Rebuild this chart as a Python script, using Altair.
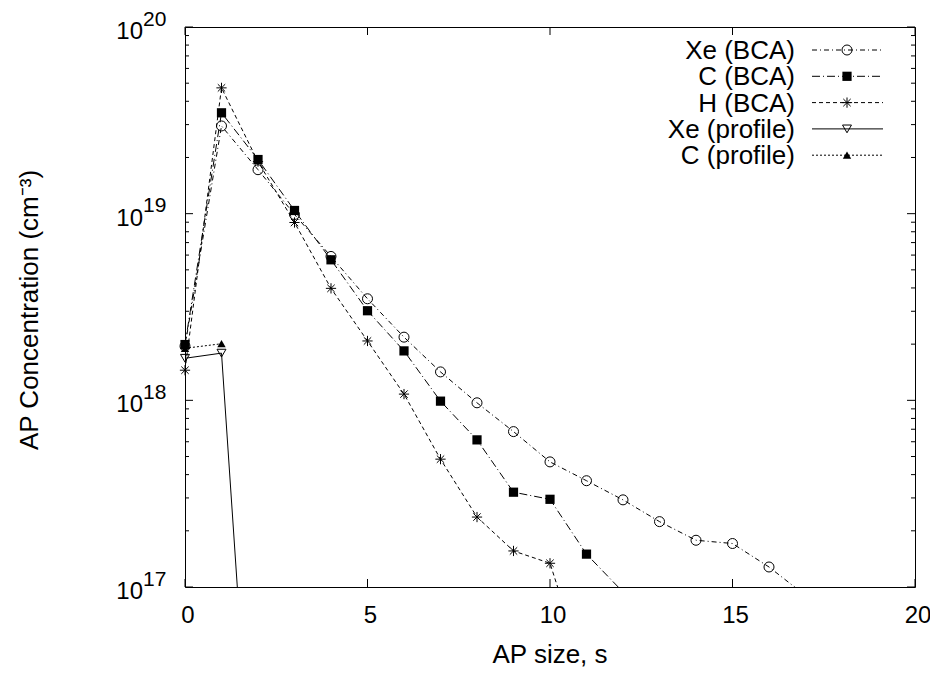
import altair as alt
import pandas as pd

# ---- data ----
sizes = list(range(0, 18))

xe_bca = [1.95e18, 2.95e19, 1.72e19, 9.9e18, 5.9e18, 3.5e18, 2.18e18, 1.42e18, 9.7e17,
          6.8e17, 4.68e17, 3.71e17, 2.93e17, 2.24e17, 1.78e17, 1.71e17, 1.28e17, 9.0e16]
c_bca = [1.99e18, 3.47e19, 1.95e19, 1.04e19, 5.66e18, 3.02e18, 1.84e18, 9.9e17, 6.14e17,
         3.22e17, 2.95e17, 1.5e17, 9.4e16]
h_bca = [1.45e18, 4.72e19, 1.9e19, 8.97e18, 3.98e18, 2.08e18, 1.08e18, 4.84e17, 2.37e17,
         1.56e17, 1.34e17, 3.3e16]
xe_profile = [1.68e18, 1.79e18, 2.3e15]
c_profile = [1.9e18, 2.01e18]

series_names = ["Xe (BCA)", "C (BCA)", "H (BCA)", "Xe (profile)", "C (profile)"]
series_values = [xe_bca, c_bca, h_bca, xe_profile, c_profile]

y_major_ticks = [1e17, 1e18, 1e19, 1e20]
y_major_exps = ["17", "18", "19", "20"]
y_minor_ticks = [k * 10.0 ** e for e in (17, 18, 19) for k in range(2, 10)]
x_ticks = [0, 5, 10, 15, 20]
x_tick_labels = ["0", "5", "10", "15", "20"]

x_title = "AP size, s"
y_title = "AP Concentration (cm\u207b\u00b3)"

# ---- styles ----
FONT = "Liberation Sans"
W, H = 730, 560
ASTERISK = "M-1,0L1,0M0,-1L0,1M-0.72,-0.72L0.72,0.72M-0.72,0.72L0.72,-0.72"
styles = [
    dict(dash=[5, 3, 1, 3], shape="circle", filled=False, size=100),
    dict(dash=[8, 3, 1, 3], shape="square", filled=True, size=85),
    dict(dash=[4, 3], shape=ASTERISK, filled=False, size=105),
    dict(dash=None, shape="triangle-down", filled=False, size=80),
    dict(dash=[2, 2], shape="triangle-up", filled=True, size=70),
]

xscale = alt.Scale(domain=[0, 20], nice=False, zero=False)
yscale = alt.Scale(type="log", domain=[1e17, 1e20], nice=False)
X = lambda f: alt.X(f, type="quantitative", scale=xscale, axis=None)
Y = lambda f: alt.Y(f, type="quantitative", scale=yscale, axis=None)

layers = []

# legend geometry (relative to plot origin)
leg_text_x = 610
leg_line_x1, leg_line_x2 = 627, 698
leg_mark_x = 662
leg_row0, leg_step = 23, 26.3

for i, (name, vals, st) in enumerate(zip(series_names, series_values, styles)):
    df = pd.DataFrame({"x": sizes[:len(vals)], "y": vals})
    line_kw = dict(clip=True, color="black", strokeWidth=1)
    if st["dash"]:
        line_kw["strokeDash"] = st["dash"]
    layers.append(alt.Chart(df).mark_line(**line_kw).encode(x=X("x"), y=Y("y")))
    pts = df[df["y"] >= 1e17]
    pt_kw = dict(shape=st["shape"], filled=st["filled"], size=st["size"], color="black",
                 strokeWidth=1, opacity=1)
    layers.append(alt.Chart(pts).mark_point(**pt_kw).encode(x=X("x"), y=Y("y")))

    one = pd.DataFrame({"name": [name]})
    ry = leg_row0 + i * leg_step
    rule_kw = dict(color="black", strokeWidth=1)
    if st["dash"]:
        rule_kw["strokeDash"] = st["dash"]
    layers.append(alt.Chart(one).mark_rule(**rule_kw).encode(
        x=alt.value(leg_line_x1), x2=alt.value(leg_line_x2), y=alt.value(ry)))
    layers.append(alt.Chart(one).mark_point(**pt_kw).encode(
        x=alt.value(leg_mark_x), y=alt.value(ry)))
    layers.append(alt.Chart(one).mark_text(font=FONT, fontSize=26, align="right",
                                           baseline="middle", color="black").encode(
        x=alt.value(leg_text_x), y=alt.value(ry + 1), text="name:N"))

# inside ticks
ymaj = pd.DataFrame({"v": y_major_ticks, "e": y_major_exps})
ymin = pd.DataFrame({"v": y_minor_ticks})
xt = pd.DataFrame({"v": x_ticks, "lab": x_tick_labels})
tick_kw = dict(color="black", strokeWidth=1)
layers += [
    alt.Chart(ymaj).mark_rule(**tick_kw).encode(x=alt.value(0), x2=alt.value(8), y=Y("v")),
    alt.Chart(ymaj).mark_rule(**tick_kw).encode(x=alt.value(W), x2=alt.value(W - 8), y=Y("v")),
    alt.Chart(ymin).mark_rule(**tick_kw).encode(x=alt.value(0), x2=alt.value(4), y=Y("v")),
    alt.Chart(ymin).mark_rule(**tick_kw).encode(x=alt.value(W), x2=alt.value(W - 4), y=Y("v")),
    alt.Chart(xt).mark_rule(**tick_kw).encode(x=X("v"), y=alt.value(H), y2=alt.value(H - 8)),
    alt.Chart(xt).mark_rule(**tick_kw).encode(x=X("v"), y=alt.value(0), y2=alt.value(8)),
]

# tick labels
layers += [
    alt.Chart(ymaj).mark_text(font=FONT, fontSize=24, align="right", baseline="alphabetic",
                              dy=12, color="black").encode(
        x=alt.value(-42), y=Y("v"), text=alt.value("10")),
    alt.Chart(ymaj).mark_text(font=FONT, fontSize=21, align="left", baseline="alphabetic",
                              dy=-1.5, color="black").encode(
        x=alt.value(-42), y=Y("v"), text="e:N"),
    alt.Chart(xt).mark_text(font=FONT, fontSize=24, align="center", baseline="alphabetic",
                            dx=3, color="black").encode(
        x=X("v"), y=alt.value(596), text="lab:N"),
]

# axis titles
titles = pd.DataFrame({"t": [x_title, y_title]})
layers += [
    alt.Chart(titles.iloc[[0]]).mark_text(font=FONT, fontSize=26, align="center",
                                          baseline="alphabetic", color="black").encode(
        x=alt.value(365), y=alt.value(636), text="t:N"),
    alt.Chart(titles.iloc[[1]]).mark_text(font=FONT, fontSize=26, align="center",
                                          baseline="alphabetic", angle=270, color="black").encode(
        x=alt.value(-147), y=alt.value(283), text="t:N"),
]

chart = alt.layer(*layers).properties(
    width=W, height=H,
    autosize=alt.AutoSizeParams(type="none"),
    padding={"left": 177, "top": 19, "right": 15, "bottom": 88},
    background="white",
).configure_view(stroke="black", strokeWidth=1)

chart.save("out.html", embed_options={"renderer": "svg", "actions": False})
